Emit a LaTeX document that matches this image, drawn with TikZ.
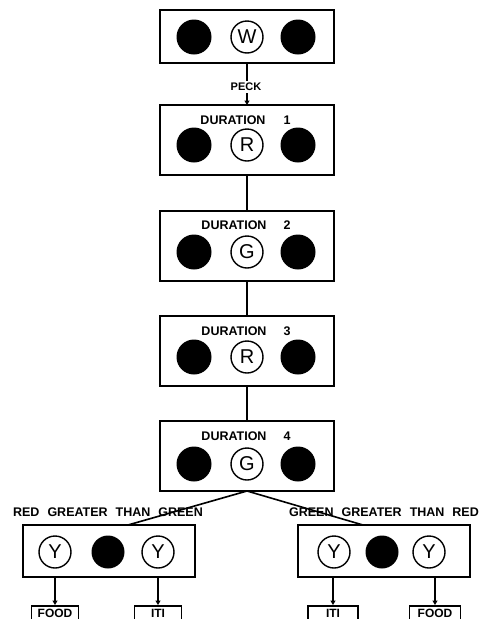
\documentclass[tikz,border=0pt]{standalone}
\usepackage{fontspec}
\setmainfont{Liberation Sans}
\usetikzlibrary{arrows.meta}
\newcommand\wsp{\hspace{8pt}}
\begin{document}
\begin{tikzpicture}[x=1pt,y=-1pt,
  panel/.style={draw, line width=1.8pt, rectangle, inner sep=0pt, outer sep=0pt, minimum width=174pt},
  dot/.style={circle, fill=black, minimum size=35pt, inner sep=0pt},
  lamp/.style={circle, draw, line width=1.4pt, minimum size=32pt, inner sep=0pt, font=\fontsize{20}{20}\selectfont},
  lbl/.style={font=\bfseries\fontsize{12.5}{13}\selectfont, inner sep=0pt},
  link/.style={line width=1.6pt},
  tip/.style={-{Triangle[length=4.5pt,width=5pt]}},
  smallbox/.style={draw, line width=1.6pt, anchor=north, minimum width=47pt, inner xsep=2pt, inner ysep=3pt, text depth=20pt, font=\bfseries\fontsize{12}{12}\selectfont}
]
\useasboundingbox (0,0) rectangle (479,619);

% top box
\node[panel, minimum height=53pt] (b1) at (247,36.5) {};
\node[dot] (b1l) at (194,37) {};
\node[lamp] (b1c) at (247,37) {W};
\node[dot] (b1r) at (298,37) {};

\node[lbl, font=\bfseries\fontsize{11}{11}\selectfont, inner sep=2pt] (peck) at (246,87) {PECK};

% duration 1
\node[panel, minimum height=70pt] (b2) at (247,140) {};
\node[lbl] (d1) at (233,120) {DURATION};
\node[lbl] (n1) at (287,120) {1};
\node[dot] (b2l) at (194,145) {};
\node[lamp] (b2c) at (247,145) {R};
\node[dot] (b2r) at (298,145) {};

% duration 2
\node[panel, minimum height=70pt] (b3) at (247,246) {};
\node[lbl] (d2) at (234,225) {DURATION};
\node[lbl] (n2) at (287,225) {2};
\node[dot] (b3l) at (194,252) {};
\node[lamp] (b3c) at (247,252) {G};
\node[dot] (b3r) at (298,252) {};

% duration 3
\node[panel, minimum height=70pt] (b4) at (247,351) {};
\node[lbl] (d3) at (234,331) {DURATION};
\node[lbl] (n3) at (287,331) {3};
\node[dot] (b4l) at (194,357) {};
\node[lamp] (b4c) at (247,357) {R};
\node[dot] (b4r) at (298,357) {};

% duration 4
\node[panel, minimum height=70pt] (b5) at (247,456) {};
\node[lbl] (d4) at (234,436) {DURATION};
\node[lbl] (n4) at (287,436) {4};
\node[dot] (b5l) at (194,464) {};
\node[lamp] (b5c) at (247,464) {G};
\node[dot] (b5r) at (298,464) {};

% connectors
\draw[link] (b1.south) -- (b1.south |- peck.north);
\draw[link,tip] (b1.south |- peck.south) -- (b2.north);
\draw[link] (b2.south) -- (b3.north);
\draw[link] (b3.south) -- (b4.north);
\draw[link] (b4.south) -- (b5.north);

% branch labels
\node[lbl] (rg) at (108,512) {RED\wsp GREATER\wsp THAN\wsp GREEN};
\node[lbl] (gr) at (384,512) {GREEN\wsp GREATER\wsp THAN\wsp RED};

% bottom boxes
\node[panel, minimum width=172pt, minimum height=52pt] (L) at (109,551) {};
\node[lamp] (Ly1) at (55,552) {Y};
\node[dot, minimum size=33pt] (Ld) at (108,552) {};
\node[lamp] (Ly2) at (158,552) {Y};

\node[panel, minimum width=172pt, minimum height=52pt] (R) at (384,551) {};
\node[lamp] (Ry1) at (334,552) {Y};
\node[dot, minimum size=33pt] (Rd) at (382,552) {};
\node[lamp] (Ry2) at (429,552) {Y};

\coordinate (jl) at (128,525);
\coordinate (jr) at (363,525);
\draw[link] (b5.south) -- (jl);
\draw[link] (b5.south) -- (jr);

% outcome boxes
\node[smallbox] (f1) at (55,605) {FOOD};
\node[smallbox] (i1) at (158,605) {ITI};
\node[smallbox, minimum width=50pt] (i2) at (333,605) {ITI};
\node[smallbox, minimum width=51pt] (f2) at (435,605) {FOOD};

\draw[link,tip] (L.south -| f1.north) -- (f1.north);
\draw[link,tip] (L.south -| i1.north) -- (i1.north);
\draw[link,tip] (R.south -| i2.north) -- (i2.north);
\draw[link,tip] (R.south -| f2.north) -- (f2.north);
\end{tikzpicture}
\end{document}
